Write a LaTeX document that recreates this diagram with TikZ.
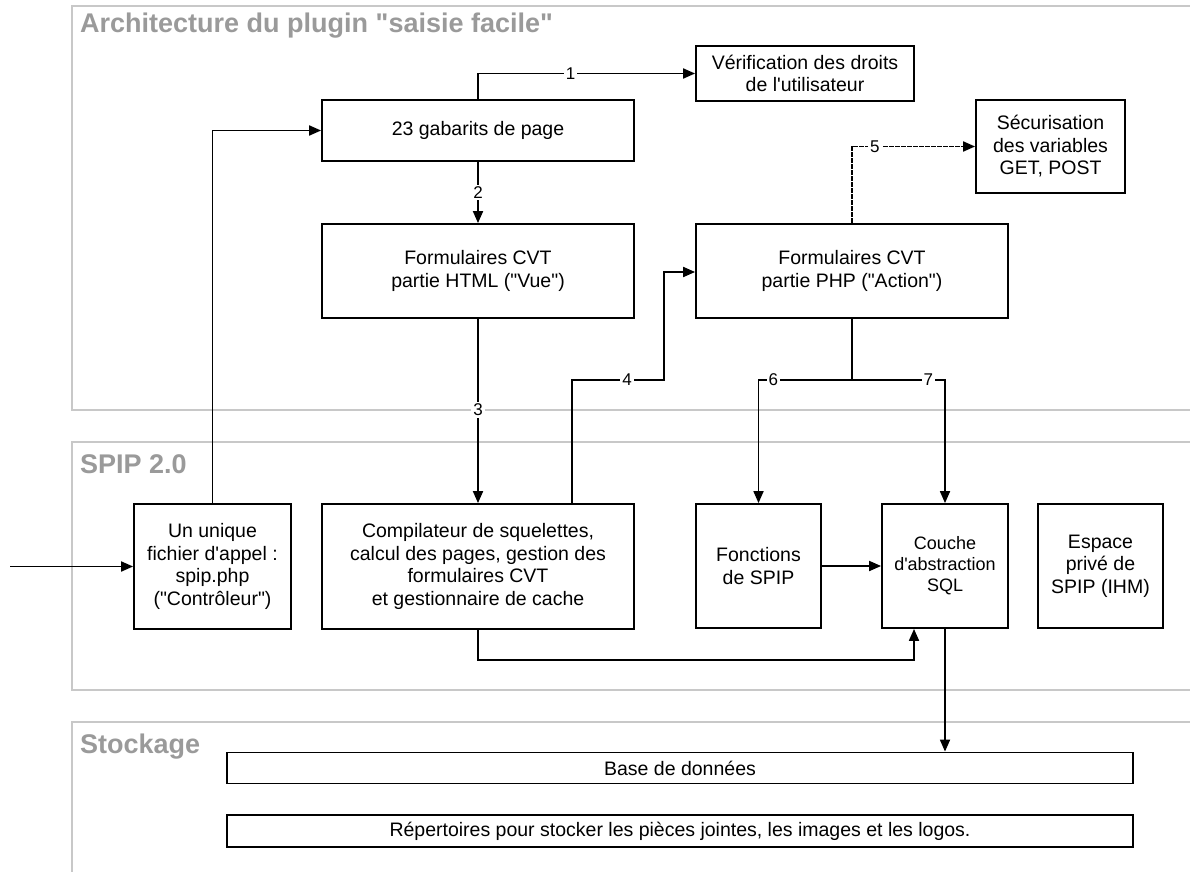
\documentclass[tikz,border=0pt]{standalone}
\usepackage{fontspec}
\setmainfont{Liberation Sans}[Ligatures=TeXOff]
\usetikzlibrary{arrows.meta,calc}
\definecolor{grpgray}{HTML}{C8C8C8}
\definecolor{titlegray}{HTML}{9A9A9A}
\tikzset{
  box/.style={draw=black, line width=1.8pt, fill=white, align=center, inner sep=2pt,
              font=\fontsize{19.5}{22.5}\selectfont},
  smallbox/.style={box, font=\fontsize{18}{21}\selectfont},
  storebox/.style={box, font=\fontsize{19.5}{22}\selectfont},
  conn/.style={line width=1.8pt, draw=black},
  arr/.style={conn, -{Triangle[length=12pt,width=10pt]}},
  lbl/.style={fill=white, inner sep=2pt, font=\fontsize{17}{19}\selectfont},
  grp/.style={draw=grpgray, line width=2pt},
  grptitle/.style={anchor=base west, text=titlegray, font=\fontsize{27}{30}\selectfont\bfseries, inner sep=0pt},
  dashedconn/.style={arr, dash pattern=on 5pt off 1pt}
}
\begin{document}
\begin{tikzpicture}[x=1pt,y=-1pt]
\useasboundingbox (0,0) rectangle (1190,872);
\fill[white] (0,0) rectangle (1190,872);

% groups
\draw[grp] (1190,6) -- (72,6) -- (72,410) -- (1190,410);
\draw[grp] (1190,442) -- (72,442) -- (72,690) -- (1190,690);
\draw[grp] (1190,722) -- (72,722) -- (72,872);
\node[grptitle] (t1) at (80,33) {Architecture du plugin "saisie facile"};
\node[grptitle] (t2) at (80,473) {SPIP 2.0};
\node[grptitle] (t3) at (80,753) {Stockage};

% nodes
\node[box, minimum width=312pt, minimum height=61pt] (gab) at (478,130.5) {23 gabarits de page};
\node[box, minimum width=218pt, minimum height=55pt] (verif) at (805,73.5) {Vérification des droits\\de l'utilisateur};
\node[box, minimum width=312pt, minimum height=94pt] (html) at (478,271) {Formulaires CVT\\partie HTML ("Vue")};
\node[box, minimum width=312pt, minimum height=94pt] (php) at (852,271) {Formulaires CVT\\partie PHP ("Action")};
\node[box, minimum width=149pt, minimum height=93pt] (secu) at (1050.5,146.5) {Sécurisation\\des variables\\GET, POST};
\node[box, minimum width=157pt, minimum height=125pt] (unique) at (212.5,566.5) {Un unique\\fichier d'appel :\\spip.php\\("Contrôleur")};
\node[box, minimum width=312pt, minimum height=125pt] (comp) at (478,566.5) {Compilateur de squelettes,\\calcul des pages, gestion des\\formulaires CVT\\et gestionnaire de cache};
\node[box, minimum width=125pt, minimum height=124pt] (fonc) at (758.5,566) {Fonctions\\de SPIP};
\node[smallbox, minimum width=126pt, minimum height=124pt] (couche) at (945,566) {Couche\\d'abstraction\\SQL};
\node[box, minimum width=125pt, minimum height=124pt] (espace) at (1100.5,566) {Espace\\privé de\\SPIP (IHM)};
\node[storebox, minimum width=906pt, minimum height=31pt] (bdd) at (680,768) {Base de données};
\node[storebox, minimum width=906pt, minimum height=32pt] (rep) at (680,831) {Répertoires pour stocker les pièces jointes, les images et les logos.};

% coordinates
\coordinate (entry) at (10,566.5);
\coordinate (k4a) at (572,380);
\coordinate (k4b) at (664,272);
\coordinate (split) at (852,380);
\coordinate (k8) at (914,660);

% connectors
\draw[arr] (entry) -- (unique.west);
\draw[arr] (unique.north) |- (gab.west);
\draw[arr] (gab.north) |- node[lbl, pos=0.713] {1} (verif.west);
\draw[arr] (gab.south) -- node[lbl] {2} (html.north);
\draw[arr] (html.south) -- node[lbl, pos=0.495] {3} (comp.north);
\draw[arr] (comp.north -| k4a) -- (k4a) -- node[lbl, pos=0.6] {4} (k4a -| k4b) -- (k4b) -- (k4b -| php.west);
\draw[dashedconn] (php.north) |- node[lbl, pos=0.593] {5} (secu.west);
\draw[conn] (php.south) -- (split);
\draw[arr] (split) -| node[lbl, pos=0.42] {6} (fonc.north);
\draw[arr] (split) -| node[lbl, pos=0.41] {7} (couche.north);
\draw[arr] (fonc.east) -- (couche.west);
\draw[arr] (comp.south) |- (k8) -- (k8 |- couche.south);
\draw[arr] (couche.south) -- (couche.south |- bdd.north);
\end{tikzpicture}
\end{document}
